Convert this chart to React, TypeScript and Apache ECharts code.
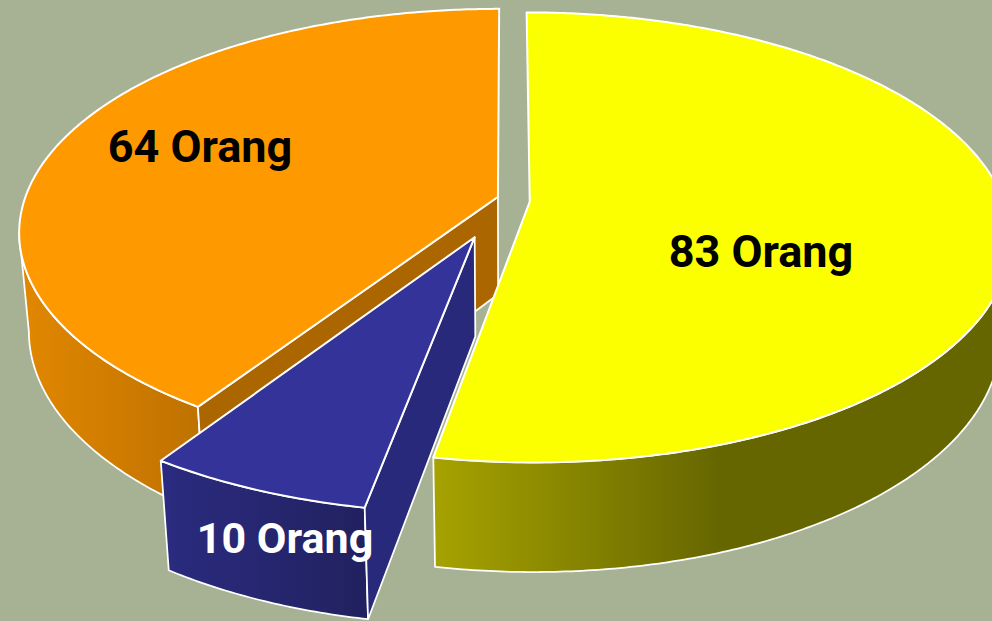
import React, { useEffect, useRef } from "react";
import * as echarts from "echarts";

// Clockwise from twelve o'clock
const categories = ["Kelompok A", "Kelompok B", "Kelompok C"];
const values = [83, 10, 64];
const unit = "Orang";
const topColors = ["#fbff00", "#333399", "#ff9900"];
const wallStops = [
  [[0, "#a6a200"], [1, "#666600"]],
  [[0, "#2b2b80"], [1, "#212160"]],
  [[0, "#e08600"], [1, "#bf7200"]],
];
const innerColors = ["#808000", "#29297c", "#ac6600"];
const labelColors = ["#000000", "#ffffff", "#000000"];

const BG = "#a7b295";
const X0 = 507, Y0 = 210, A = 477, B = 222, H = 100, K = 0.16, M = 0.02;
// Per-slice layout: explode offset in the pie plane, gradient span, label anchor, paint order
const layout = [
  { ou: 0.048, ov: -0.038, grad: [435, 720], label: [761, 251], rank: 1, radial: false, fontSize: 45 },
  { ou: -0.0665, ov: 0.1203, grad: [160, 368], label: [285, 538], rank: 2, radial: true, fontSize: 43 },
  { ou: -0.0192, ov: -0.0597, grad: [30, 200], label: [200, 146], rank: 0, radial: true, fontSize: 45 },
];

const total = values.reduce((a, b) => a + b, 0);
const TAU = Math.PI * 2;
const thetaSil = Math.acos(-K); // right silhouette angle

function App() {
  const ref = useRef<HTMLDivElement>(null);
  useEffect(() => {
    const chart = echarts.init(ref.current!, null, { renderer: "svg" });
    const renderItem = (params: any, api: any) => {
      const i = params.dataIndex;
      const value = api.value(0);
      let before = 0;
      for (let j = 0; j < i; j++) before += values[j];
      const a0 = (before / total) * TAU;
      const a1 = a0 + (value / total) * TAU;
      const l = layout[i];
      const P = (r: number, t: number, z: number) => {
        const U = r * Math.sin(t) + l.ou;
        const V = -r * Math.cos(t) + l.ov;
        const w = 1 - K * V + M * z;
        return [X0 + (A * U) / w, Y0 + (B * V + H * z) / w];
      };
      const arc = (s: number, e: number, z: number) => {
        const n = Math.max(2, Math.ceil((e - s) / 0.01));
        const pts = [];
        for (let q = 0; q <= n; q++) pts.push(P(1, s + ((e - s) * q) / n, z));
        return pts;
      };
      const base = l.rank * 10;
      const children: any[] = [];
      const vs = Math.max(a0, thetaSil);
      const ve = Math.min(a1, TAU - thetaSil);
      const grad = new echarts.graphic.LinearGradient(
        l.grad[0], 0, l.grad[1], 0,
        wallStops[i].map((s: any) => ({ offset: s[0], color: s[1] })),
        true
      );
      children.push({
        type: "polygon",
        z2: base + 1,
        shape: { points: [...arc(vs, ve, 0), ...arc(vs, ve, 1).reverse()] },
        style: { fill: grad, stroke: "#fff", lineWidth: 1.75, lineJoin: "round" },
      });
      if (l.radial) {
        children.push({
          type: "polygon",
          z2: base + 2,
          shape: { points: [P(0, 0, 0), P(1, a0, 0), P(1, a0, 1), P(0, 0, 1)] },
          style: { fill: innerColors[i], stroke: "#fff", lineWidth: 1.75, lineJoin: "round" },
        });
      }
      children.push({
        type: "polygon",
        z2: base + 3,
        shape: { points: [P(0, 0, 0), ...arc(a0, a1, 0)] },
        style: { fill: topColors[i], stroke: "#fff", lineWidth: 2, lineJoin: "round" },
      });
      children.push({
        type: "text",
        z2: 100,
        style: {
          x: l.label[0],
          y: l.label[1],
          text: `${value} ${unit}`,
          fill: labelColors[i],
          font: `bold ${l.fontSize}px Roboto, sans-serif`,
          align: "center",
          verticalAlign: "middle",
        },
      });
      return { type: "group", children };
    };
    chart.setOption({
      animation: false,
      backgroundColor: BG,
      series: [
        {
          type: "custom",
          coordinateSystem: "none",
          clip: false,
          renderItem,
          data: categories.map((name, i) => ({ name, value: [values[i]] })),
        },
      ],
    });
    return () => chart.dispose();
  }, []);
  return (
    <div
      ref={ref}
      style={{ position: "absolute", left: 0, top: 0, width: 992, height: 621 }}
    />
  );
}

export default App;
